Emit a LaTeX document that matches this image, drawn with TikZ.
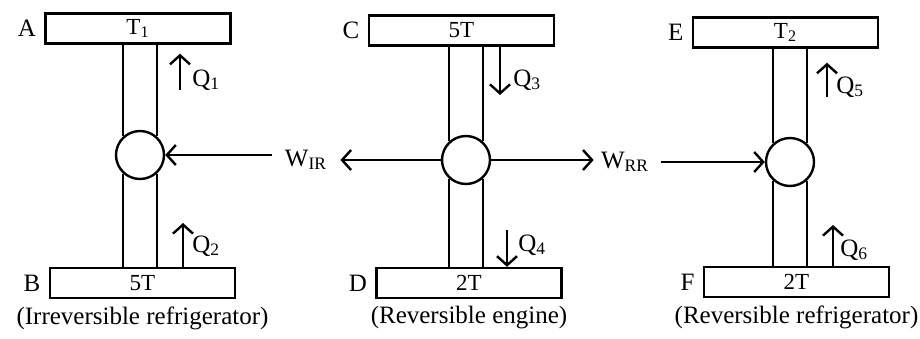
\documentclass[tikz,border=0pt]{standalone}
\usepackage{fontspec}
\setmainfont{Liberation Serif}
\usetikzlibrary{arrows.meta, positioning}

\begin{document}
\begin{tikzpicture}[
  x=0.5pt, y=-0.5pt,
  res/.style={rectangle, draw, line width=1.2pt, minimum width=92.5pt,
              minimum height=15pt, inner sep=0pt, font=\fontsize{11.5}{12}\selectfont},
  cyc/.style={circle, draw, line width=1.2pt, minimum size=24pt, inner sep=0pt},
  pipe/.style={line width=1.2pt},
  arr/.style={-{Straight Barb[length=4.5pt, width=10pt, line width=1.2pt]}, line width=1.2pt},
  tag/.style={inner sep=0pt, font=\fontsize{12.5}{13}\selectfont},
  captxt/.style={inner sep=0pt, font=\fontsize{12.5}{14}\selectfont}
]
\useasboundingbox (0,0) rectangle (920,338);

% Reservoirs
\node[res] (A) at (138,28.5)  {T\textsubscript{1}};
\node[res] (B) at (142.5,283) {5T};
\node[res] (C) at (461.5,30.5){5T};
\node[res] (D) at (469,283)   {2T};
\node[res] (E) at (785.5,32.5){T\textsubscript{2}};
\node[res] (F) at (796.5,282) {2T};

\node[tag, left=4pt of A] (lA) {A};
\node[tag, left=4pt of B] (lB) {B};
\node[tag, left=4pt of C] (lC) {C};
\node[tag, left=4pt of D] (lD) {D};
\node[tag, left=4pt of E] (lE) {E};
\node[tag, left=4pt of F] (lF) {F};

% Devices
\node[cyc] (c1) at (140,155) {};
\node[cyc] (c2) at (466,160) {};
\node[cyc] (c3) at (790,162) {};

\foreach \c/\t/\b in {c1/A/B, c2/C/D, c3/E/F} {
  \draw[pipe] (\c.132) -- (\c.132 |- \t.south);
  \draw[pipe] (\c.48) -- (\c.48 |- \t.south);
  \draw[pipe] (\c.-132) -- (\c.-132 |- \b.north);
  \draw[pipe] (\c.-48) -- (\c.-48 |- \b.north);
}

\node[captxt, below=3.5pt of B] (capB) {(Irreversible refrigerator)};
\node[captxt, below=3.5pt of D] (capD) {(Reversible engine)};
\node[captxt, below=3.5pt of F] (capF) {(Reversible refrigerator)};

% Heat flows
\coordinate (q1) at (180,90);
\coordinate (q2) at (183,223);
\coordinate (q3) at (500,95);
\coordinate (q4) at (507,230);
\coordinate (q5) at (827,97);
\coordinate (q6) at (833,225);

\draw[arr, shorten >=4.5pt] (q1) -- (q1 |- A.south);
\draw[arr] (q2 |- B.north) -- (q2);
\draw[arr] (q3 |- C.south) -- (q3);
\draw[arr] (q4) -- (q4 |- D.north);
\draw[arr, shorten >=7pt] (q5) -- (q5 |- E.south);
\draw[arr] (q6 |- F.north) -- (q6);

\node[tag, anchor=west] (lq1) at (192,80)  {Q\textsubscript{1}};
\node[tag, anchor=west] (lq2) at (192,246) {Q\textsubscript{2}};
\node[tag, anchor=west] (lq3) at (513,80)  {Q\textsubscript{3}};
\node[tag, anchor=west] (lq4) at (518,245) {Q\textsubscript{4}};
\node[tag, anchor=west] (lq5) at (836,87)  {Q\textsubscript{5}};
\node[tag, anchor=west] (lq6) at (840,250) {Q\textsubscript{6}};

% Work
\node[tag] (wir) at (306,160) {W\textsubscript{IR}};
\node[tag] (wrr) at (625,162) {W\textsubscript{RR}};

\draw[arr, shorten <=6.5pt] (wir.west |- c1) -- (c1.east);
\draw[arr, shorten >=6.5pt] (c2.west) -- (wir.east |- c2);
\draw[arr, shorten >=3.5pt] (c2.east) -- (wrr.west |- c2);
\draw[arr, shorten <=6pt] (wrr.east |- c3) -- (c3.west);

\end{tikzpicture}
\end{document}
